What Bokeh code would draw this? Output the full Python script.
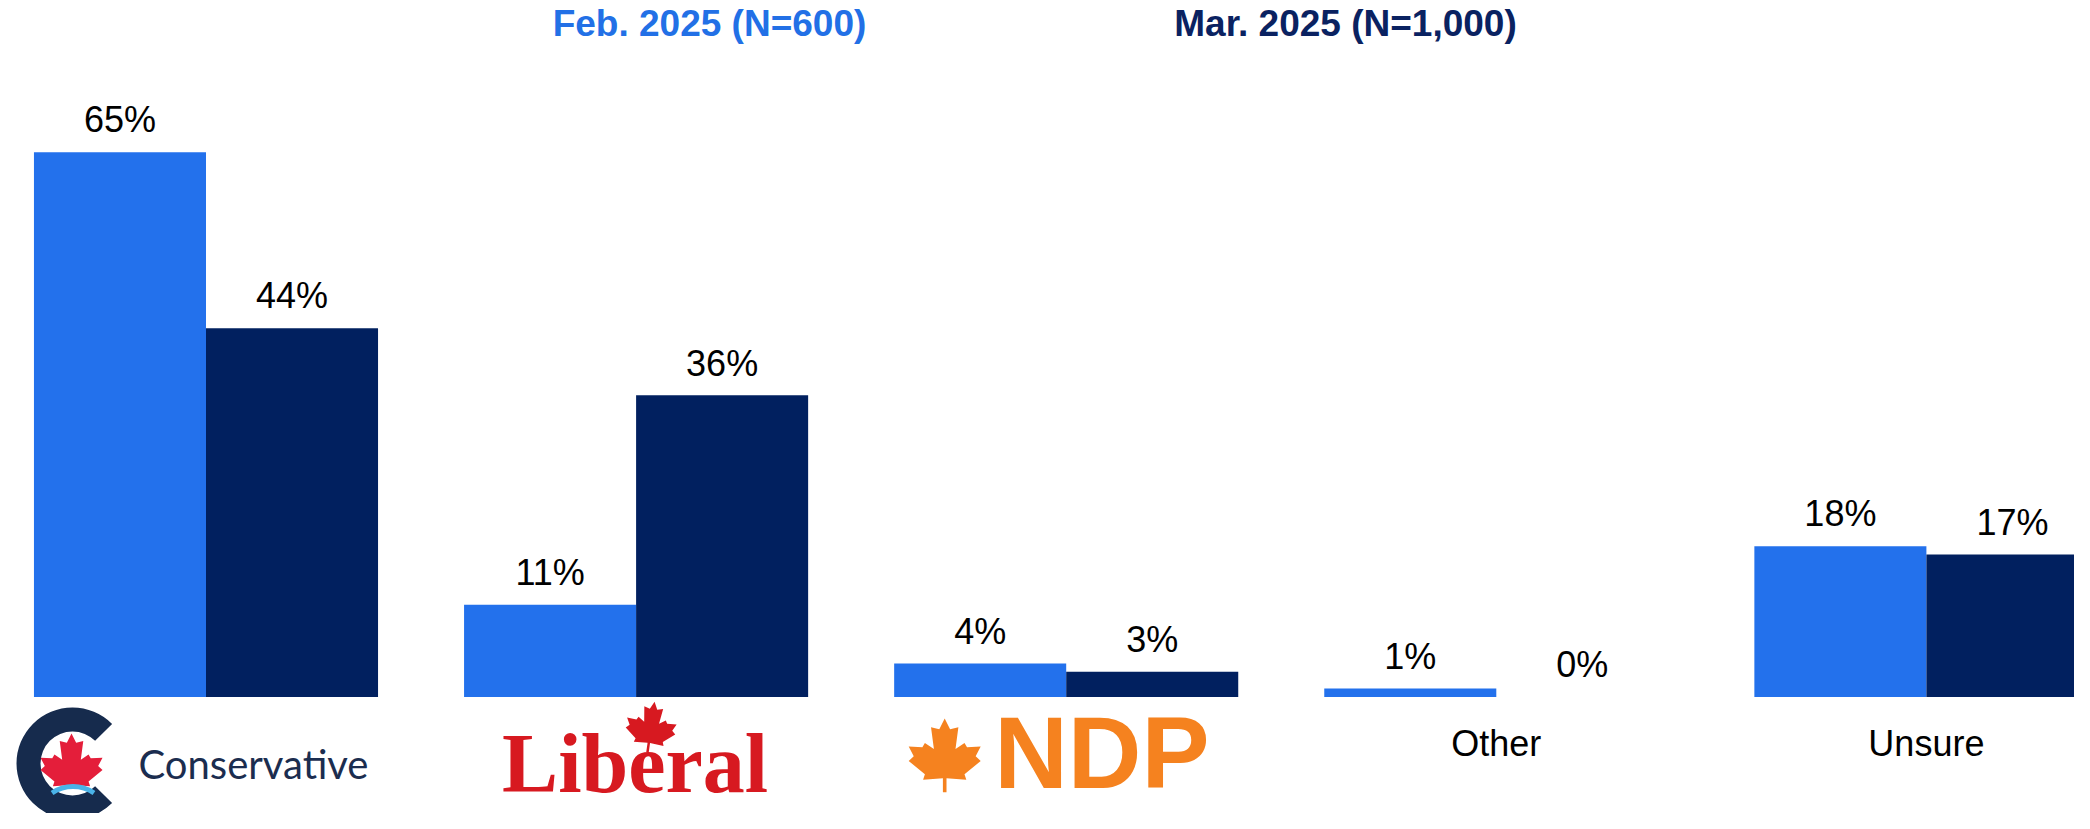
import numpy as np
from bokeh.plotting import figure
from bokeh.models import ColumnDataSource, Range1d
from bokeh.core.properties import value
from bokeh.embed import file_html
from bokeh.resources import INLINE

# ---------------- data ----------------
categories = ["Conservative", "Liberal", "NDP", "Other", "Unsure"]
feb_2025 = [65, 11, 4, 1, 18]
mar_2025 = [44, 36, 3, 0, 17]
series_names = ["Feb. 2025 (N=600)", "Mar. 2025 (N=1,000)"]
text_labels = ["Other", "Unsure"]  # plain-text category labels (others drawn as logos)

# ---------------- style / layout ----------------
BAR_COLORS = ["#2371EC", "#01205F"]
LEGEND_COLORS = ["#2270E6", "#0A2261"]
W, H = 2074, 813
PX_PER_CAT = 430.1
FIRST_CENTER_PX = 205.5
BASE_PX = 696.5
PX_PER_PCT = 8.38
BAR_W = 0.4
MID = 0.37  # distance from text middle to baseline, in em

xs = -FIRST_CENTER_PX / PX_PER_CAT
xe = xs + W / PX_PER_CAT
ye = BASE_PX / PX_PER_PCT
ys = ye - H / PX_PER_PCT


def X(px):
    return xs + px / PX_PER_CAT


def Y(py):
    return ye - py / PX_PER_PCT


def cat_px(i):
    return FIRST_CENTER_PX + PX_PER_CAT * i


p = figure(width=W, height=H, x_range=Range1d(xs, xe), y_range=Range1d(ys, ye),
           x_axis_type=None, y_axis_type=None, output_backend="svg",
           toolbar_location=None, min_border=0)
p.outline_line_color = None
p.background_fill_color = "white"
p.border_fill_color = "white"

idx = np.arange(len(categories))
p.vbar(x=idx - BAR_W / 2, top=feb_2025, width=BAR_W, fill_color=BAR_COLORS[0], line_color=None)
p.vbar(x=idx + BAR_W / 2, top=mar_2025, width=BAR_W, fill_color=BAR_COLORS[1], line_color=None)

vals = feb_2025 + mar_2025
lab_src = ColumnDataSource(dict(
    x=list(idx - BAR_W / 2) + list(idx + BAR_W / 2),
    y=vals,
    t=[f"{v}%" for v in vals],
))
p.text(x="x", y="y", text="t", source=lab_src, y_offset=-(19 + MID * 36), text_align="center",
       text_baseline="middle", text_font=value("Liberation Sans"),
       text_font_size="36px", text_color="#000000")

# legend (series titles)
for name, col, cx in zip(series_names, LEGEND_COLORS, [709, 1345]):
    p.text(x=[X(cx)], y=[Y(37 - MID * 37)], text=[name], text_align="center",
           text_baseline="middle", text_font=value("Liberation Sans"), text_font_style="bold",
           text_font_size="37px", text_color=col)

# plain category labels
p.text(x=[3, 4], y=[Y(756 - MID * 36)] * 2, text=text_labels, text_align="center",
       text_baseline="middle", text_font=value("Liberation Sans"),
       text_font_size="36px", text_color="#000000")

# ---------------- logos (decoration) ----------------
LEAF_HALF = [(0.00, 1.00), (0.15, 0.70), (0.38, 0.76), (0.30, 0.15), (0.55, 0.32),
             (0.62, 0.20), (1.00, 0.22), (0.86, -0.05), (1.00, -0.18), (0.55, -0.55),
             (0.60, -0.70), (0.05, -0.66), (0.05, -1.05)]


def leaf(cx, cy, scale, angle_deg=0.0, stem=True):
    half = LEAF_HALF if stem else LEAF_HALF[:-2] + [(0.0, -0.66)]
    left = [(-x, y) for (x, y) in reversed(half) if x != 0]
    pts = half + left
    a = np.radians(angle_deg)
    xs_, ys_ = [], []
    for (ux, uy) in pts:
        rx = ux * np.cos(a) - uy * np.sin(a)
        ry = ux * np.sin(a) + uy * np.cos(a)
        xs_.append(X(cx + rx * scale))
        ys_.append(Y(cy - ry * scale))
    return xs_, ys_


# Conservative
c0 = cat_px(0)
p.annular_wedge(x=[X(c0 - 133.5)], y=[Y(763)], inner_radius=32, outer_radius=56,
                inner_radius_units="screen", outer_radius_units="screen",
                start_angle=np.radians(45), end_angle=np.radians(315),
                direction="anticlock", fill_color="#162B4D", line_color=None)
lx, ly = leaf(c0 - 134.5, 764, 31, 0, stem=False)
p.patch(lx, ly, fill_color="#E41E3A", line_color=None)
p.annular_wedge(x=[X(c0 - 133)], y=[Y(823.6)], inner_radius=35, outer_radius=40,
                inner_radius_units="screen", outer_radius_units="screen",
                start_angle=np.radians(56), end_angle=np.radians(124),
                direction="anticlock", fill_color="#4AB3E8", line_color=None)
p.text(x=[X(c0 - 67.5)], y=[Y(778 - MID * 40)], text=["Conservative"], text_align="left",
       text_baseline="middle", text_font=value("Lato"), text_font_size="40px",
       text_color="#1B2D4F")

# Liberal
c1 = cat_px(1)
p.text(x=[X(c1 - 1)], y=[Y(794 - MID * 84)], text=["Liberal"], text_align="center",
       text_baseline="middle", text_font=value("Liberation Serif"), text_font_style="bold",
       text_font_size="84px", text_color="#D71920")
lx, ly = leaf(c1 + 15, 726, 25, -8)
p.patch(lx, ly, fill_color="#D71920", line_color=None)

# NDP
c2 = cat_px(2)
lx, ly = leaf(c2 - 121.5, 754, 36, 0)
p.patch(lx, ly, fill_color="#F5821F", line_color=None)
p.text(x=[X(c2 - 72)], y=[Y(790 - MID * 102)], text=["NDP"], text_align="left",
       text_baseline="middle", text_font=value("Liberation Sans"), text_font_style="bold",
       text_font_size="102px", text_color="#F5821F")

open("out.html", "w").write(file_html(p, INLINE))
